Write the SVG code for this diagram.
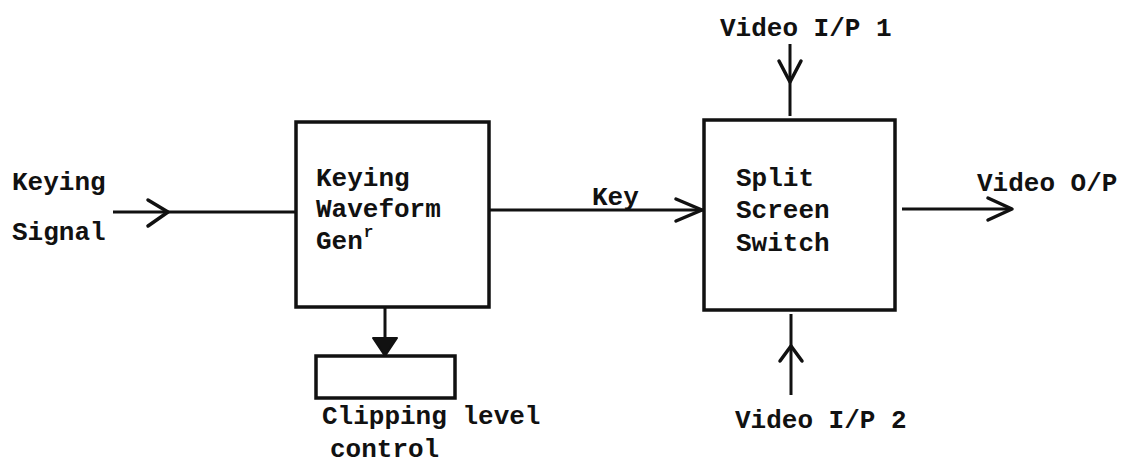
<svg xmlns="http://www.w3.org/2000/svg" width="1124" height="468" viewBox="0 0 1124 468">
<style>
text{font-family:"Liberation Mono","DejaVu Sans Mono",monospace;font-size:26px;font-weight:bold;fill:#111}
.box{fill:none;stroke:#111;stroke-width:3.5}
.ln{fill:none;stroke:#111;stroke-width:3}
.ah{fill:none;stroke:#111;stroke-width:3.5;stroke-linecap:round;stroke-linejoin:round}
</style>
<rect width="1124" height="468" fill="#fff"/>
<g id="keying-signal"><text x="12" y="190">Keying</text><text x="12" y="240">Signal</text></g>
<g id="keying-gen">
<rect class="box" x="296" y="122" width="193" height="185"/>
<text x="316" y="186">Keying</text><text x="316" y="217">Waveform</text><text x="316" y="249">Gen<tspan dx="1" dy="-12" font-size="16">r</tspan></text>
</g>
<g id="clipping">
<rect class="box" x="316" y="356" width="139" height="42"/>
<text x="322" y="424">Clipping level</text><text x="330" y="457">control</text>
</g>
<g id="switch">
<rect class="box" x="704" y="120" width="191" height="190"/>
<text x="736" y="186">Split</text><text x="736" y="218">Screen</text><text x="736" y="251">Switch</text>
</g>
<g id="labels">
<text x="720" y="36">Video I/P 1</text>
<text x="735" y="428">Video I/P 2</text>
<text x="977" y="191">Video O/P</text>
<text x="592" y="205">Key</text>
</g>
<g id="connectors">
<line class="ln" x1="113" y1="212" x2="296" y2="212"/>
<polyline class="ah" points="148,200 168,212 148,226"/>
<line class="ln" x1="489" y1="210" x2="704" y2="210"/>
<polyline class="ah" points="676,199 702,210 676,221"/>
<line class="ln" x1="790" y1="44" x2="790" y2="116"/>
<polyline class="ah" points="779,61 790,82 801,61"/>
<line class="ln" x1="791" y1="314" x2="791" y2="395"/>
<polyline class="ah" points="780,361 791,346 802,361"/>
<line class="ln" x1="902" y1="209" x2="1012" y2="209"/>
<polyline class="ah" points="988,198 1012,209 988,220"/>
<line class="ln" x1="385" y1="307" x2="385" y2="345"/>
<polygon points="373,338 397,338 385,356" fill="#111" stroke="#111" stroke-width="2" stroke-linejoin="round"/>
</g>
</svg>
